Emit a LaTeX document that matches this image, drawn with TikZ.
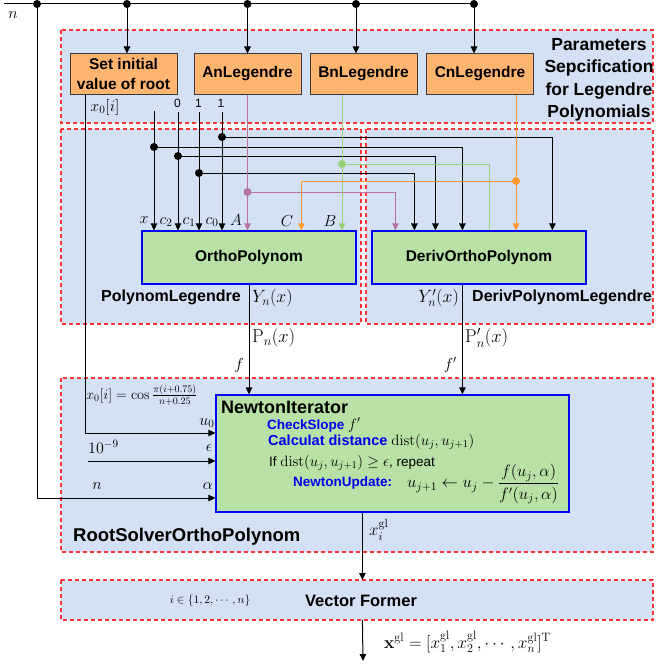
\RequirePackage{fix-cm}
\documentclass[tikz,border=0pt]{standalone}
\usepackage{amsmath}
\usepackage[no-math]{fontspec}
\setmainfont{Liberation Sans}
\usetikzlibrary{arrows.meta}
\definecolor{panelfill}{HTML}{D4E1F5}
\definecolor{panelred}{HTML}{FF3333}
\definecolor{orfill}{HTML}{FFB570}
\definecolor{orline}{HTML}{36393D}
\definecolor{grfill}{HTML}{B9E0A5}
\definecolor{bxblue}{HTML}{0000FF}
\definecolor{pinkw}{HTML}{B5739D}
\definecolor{greenw}{HTML}{97D077}
\definecolor{orangew}{HTML}{FF9933}
\definecolor{txtblue}{HTML}{0000EE}
\tikzset{
 panel/.style={draw=panelred, fill=panelfill, dash pattern=on 4pt off 3pt, line width=1.1pt},
 obox/.style={draw=orline, fill=orfill, line width=1pt, minimum width=107pt, minimum height=40pt, inner sep=0pt, align=center, font=\fontsize{15.5}{20}\selectfont\bfseries},
 gbox/.style={draw=bxblue, fill=grfill, line width=1.2pt, inner sep=0pt, font=\fontsize{15.5}{18}\selectfont\bfseries},
 wire/.style={line width=1pt},
 arr/.style={wire, -{Triangle[length=7pt,width=6.5pt]}},
 dot/.style={circle, fill, inner sep=0pt, minimum size=8pt},
 lbl/.style={inner sep=0pt, font=\fontsize{16}{18}\selectfont},
 slbl/.style={inner sep=0pt, font=\fontsize{12}{14}\selectfont},
 ttl/.style={inner sep=0pt, font=\fontsize{16}{18}\selectfont\bfseries},
 bl/.style={inner sep=0pt, anchor=west, text=txtblue, font=\fontsize{13.5}{16}\selectfont\bfseries},
}
\newcommand{\mth}[1]{{\fontsize{15}{18}\selectfont\color{black}$#1$}}
\begin{document}
\begin{tikzpicture}[x=1pt,y=-1pt]
\useasboundingbox (0,0) rectangle (657,669);
% panels
\draw[panel] (61,30) rectangle (653,123);
\draw[panel] (61,129) rectangle (361,324);
\draw[panel] (366,129) rectangle (653,324);
\draw[panel] (61,378) rectangle (653,552);
\draw[panel] (61,580) rectangle (653,620);
\coordinate (vfn) at (363,580);
\coordinate (vfs) at (363,620);
\node[ttl, font=\fontsize{16.5}{18}\selectfont\bfseries] (vft) at (361,601) {Vector Former};
\node[slbl, font=\fontsize{11.5}{14}\selectfont] (iset) at (210,601) {$i\in\{1,2,\cdots,n\}$};
% panel titles
\node[inner sep=0pt, align=center, font=\fontsize{17.5}{22.5}\selectfont\bfseries] (ptitle) at (599,80) {Parameters\\Sepcification\\for Legendre\\Polynomials};
\node[ttl] (pl) at (171,297) {PolynomLegendre};
\node[ttl, anchor=west] (dpl) at (472,297) {DerivPolynomLegendre};
\node[ttl, anchor=west, font=\fontsize{18.5}{20}\selectfont\bfseries] (rs) at (73,537) {RootSolverOrthoPolynom};
% boxes
\node[obox] (set) at (123.5,74) {Set initial\\value of root};
\node[obox] (an) at (247.5,74) {AnLegendre};
\node[obox] (bn) at (363.5,74) {BnLegendre};
\node[obox] (cn) at (480,74) {CnLegendre};
\node[gbox, minimum width=214pt, minimum height=53pt] (ortho) at (249,257.5) {OrthoPolynom};
\node[gbox, minimum width=214pt, minimum height=53pt] (deriv) at (479,257.5) {DerivOrthoPolynom};
\node[gbox, minimum width=353pt, minimum height=117pt] (newton) at (392.5,453.5) {};
% newton contents
\node[inner sep=0pt, anchor=west, font=\fontsize{18}{20}\selectfont\bfseries] (nt) at (221,407.5) {NewtonIterator};
\node[bl] (cs) at (267,425) {CheckSlope \mth{f'}};
\node[bl, font=\fontsize{14.5}{16}\selectfont\bfseries] (cd) at (268,442) {Calculat distance \mth{\mathrm{dist}(u_j,u_{j+1})}};
\node[inner sep=0pt, anchor=west, font=\fontsize{13.5}{16}\selectfont] (rep) at (269,463) {If \mth{\mathrm{dist}(u_j,u_{j+1})\geq\epsilon}, repeat};
\node[bl] (nu) at (293,483) {NewtonUpdate:};
\node[inner sep=0pt, anchor=west, font=\fontsize{16.5}{18}\selectfont] (nuf) at (407,484) {$u_{j+1}\leftarrow u_j-\dfrac{f(u_j,\alpha)}{f'(u_j,\alpha)}$};
% top n line
\coordinate (nstart) at (4,4);
\coordinate (d1) at (37,4);
\coordinate (d2) at (127,4);
\coordinate (d3) at (247.5,4);
\coordinate (d4) at (356,4);
\coordinate (d5) at (474,4);
\node[lbl] (nlab) at (13,15) {$n$};
\draw[wire] (nstart) -- (d5);
\draw[arr] (d2) -- (d2 |- set.north);
\draw[arr] (d3) -- (d3 |- an.north);
\draw[arr] (d4) -- (d4 |- bn.north);
\draw[arr] (d5) -- (d5 |- cn.north);
\coordinate (ain) at ([yshift=-44.5pt]newton.west);
\draw[arr] (d1) |- (ain);
\coordinate (x0src) at ([xshift=16pt]set.south west);
\coordinate (uin) at ([yshift=20.5pt]newton.west);
\draw[arr] (x0src) |- (uin);
\coordinate (estart) at (88,461);
\coordinate (ein) at ([yshift=-7.5pt]newton.west);
\draw[arr] (estart) -- (ein);
% labels left of newton
\node[inner sep=0pt, anchor=west, font=\fontsize{14.3}{15}\selectfont] (x0f) at (86,395) {$x_0[i]=\cos\frac{\pi(i+0.75)}{n+0.25}$};
\node[lbl] (u0l) at (207,423) {$u_0$};
\node[lbl, anchor=west] (tenl) at (88,447) {$10^{-9}$};
\node[lbl] (epsl) at (209,448) {$\epsilon$};
\node[lbl] (nl2) at (97,486) {$n$};
\node[lbl] (alphal) at (208,486) {$\alpha$};
% sources below set box
\node[lbl] (x0l) at (105,107) {$x_0[i]$};
\node[slbl] (l0) at (177.5,103) {0};
\node[slbl] (l1) at (198.5,103) {1};
\node[slbl] (l2) at (221,103) {1};
\coordinate (xsrc) at (154,111);
\coordinate (c2src) at (178,112);
\coordinate (c1src) at (199,112);
\coordinate (c0src) at (222,112);
\draw[arr] (xsrc) -- (xsrc |- ortho.north);
\draw[arr] (c2src) -- (c2src |- ortho.north);
\draw[arr] (c1src) -- (c1src |- ortho.north);
\draw[arr] (c0src) -- (c0src |- ortho.north);
% junctions
\coordinate (jx) at (154,147);
\coordinate (jc2) at (178,156);
\coordinate (jc1) at (199,173);
\coordinate (jc0) at (222,137);
\coordinate (jA) at (247.5,192);
\coordinate (jB) at (342,164);
\coordinate (jC) at (516,181);
\draw[arr] (jc0) -| ([xshift=181pt]deriv.north west);
\draw[arr] (jx) -| ([xshift=91pt]deriv.north west);
\draw[arr] (jc2) -| ([xshift=64pt]deriv.north west);
\draw[arr] (jc1) -| ([xshift=43pt]deriv.north west);
\draw[arr, pinkw] (an.south) -- (an.south |- ortho.north);
\draw[arr, pinkw] (jA) -| ([xshift=24pt]deriv.north west);
\coordinate (bsrc) at ([xshift=-21.5pt]bn.south);
\draw[arr, greenw] (bsrc) -- (bsrc |- ortho.north);
\draw[wire, greenw] (jB) -| ([xshift=118pt]deriv.north west);
\coordinate (csrc) at ([xshift=36pt]cn.south);
\draw[arr, orangew] (csrc) -- (csrc |- deriv.north);
\draw[arr, orangew] (jC) -| ([xshift=160pt]ortho.north west);
% input labels on ortho
\node[lbl] (lx) at (144,220) {$x$};
\node[lbl] (lc2) at (166,222) {$c_2$};
\node[lbl] (lc1) at (189,222) {$c_1$};
\node[lbl] (lc0) at (212,222) {$c_0$};
\node[lbl] (lA) at (236,220) {$A$};
\node[lbl] (lC) at (287,221) {$C$};
\node[lbl] (lB) at (330,221) {$B$};
% outputs
\draw[arr] (ortho.south) -- (ortho.south |- newton.north);
\coordinate (dout) at ([xshift=91pt]deriv.south west);
\draw[arr] (dout) -- (dout |- newton.north);
\node[lbl, anchor=west, font=\fontsize{17.8}{18}\selectfont] (yn) at (252,298) {$Y_n(x)$};
\node[lbl, anchor=east, font=\fontsize{17.8}{18}\selectfont] (ynp) at (459,298) {$Y_n'(x)$};
\node[lbl, anchor=west, font=\fontsize{18.5}{18}\selectfont] (pn) at (252,338) {$\mathrm{P}_n(x)$};
\node[lbl, anchor=west, font=\fontsize{18.5}{18}\selectfont] (pnp) at (465,338) {$\mathrm{P}_n'(x)$};
\node[lbl, anchor=east] (fl) at (244,365) {$f$};
\node[lbl, anchor=east] (fpl) at (457,365) {$f'$};
\coordinate (nout) at ([xshift=147pt]newton.south west);
\draw[arr] (nout) -- (nout |- vfn);
\node[lbl, anchor=west, font=\fontsize{17}{18}\selectfont] (xig) at (369,530) {$x_i^{\mathrm{gl}}$};
\coordinate (final) at (363,661);
\draw[arr] (nout |- vfs) -- (final);
\node[lbl, anchor=west, font=\fontsize{17.3}{18}\selectfont] (xvec) at (384,642) {$\mathbf{x}^{\mathrm{gl}}=[x_1^{\mathrm{gl}},x_2^{\mathrm{gl}},\cdots,x_n^{\mathrm{gl}}]^{\mathrm{T}}$};
% dots
\node[dot] (k1) at (d1) {};
\node[dot] (k2) at (d2) {};
\node[dot] (k3) at (d3) {};
\node[dot] (k4) at (d4) {};
\node[dot] (k5) at (d5) {};
\node[dot] (kx) at (jx) {};
\node[dot] (kc2) at (jc2) {};
\node[dot] (kc1) at (jc1) {};
\node[dot] (kc0) at (jc0) {};
\node[dot, pinkw] (kA) at (jA) {};
\node[dot, greenw] (kB) at (jB) {};
\node[dot, orangew] (kC) at (jC) {};
\end{tikzpicture}
\end{document}
